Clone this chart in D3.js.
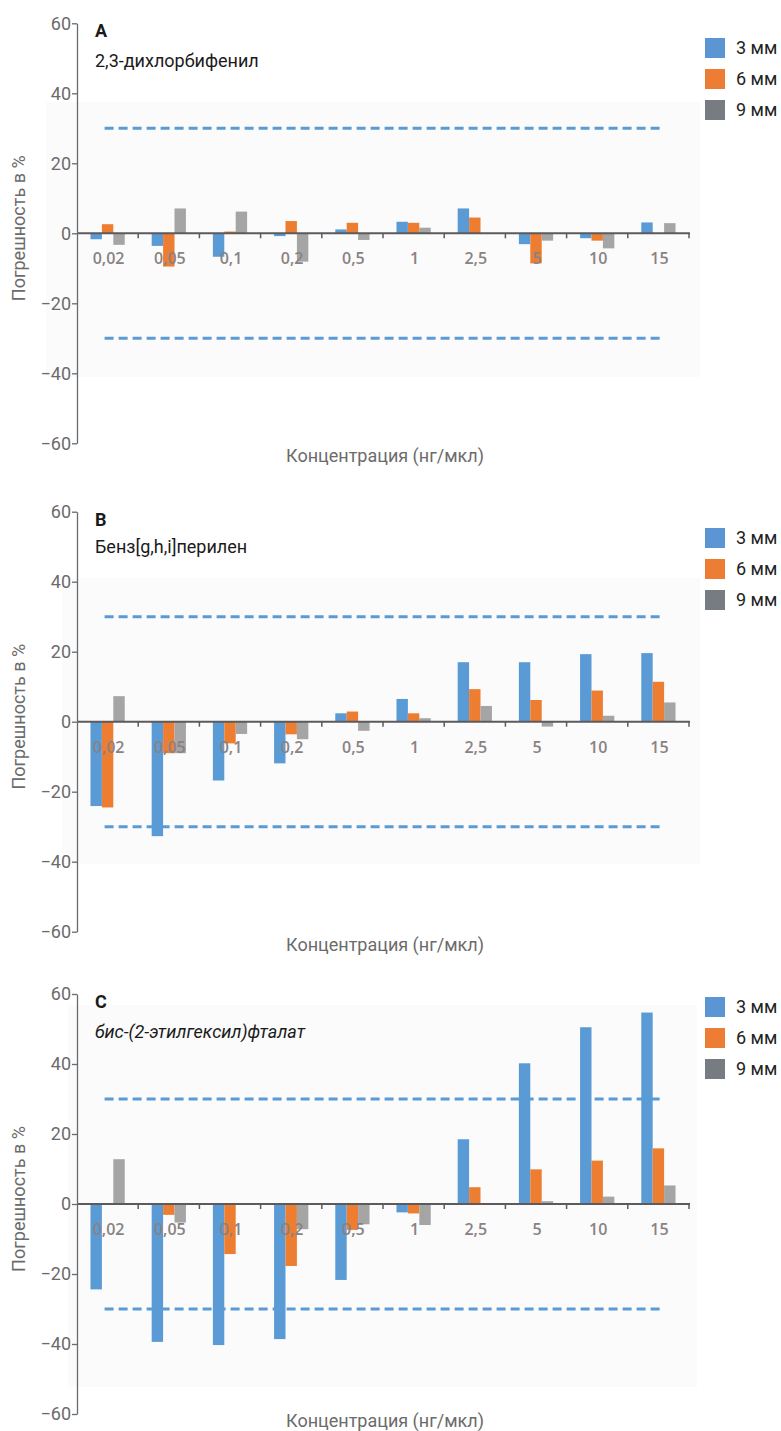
<!DOCTYPE html>
<html><head><meta charset="utf-8">
<script src="https://cdn.jsdelivr.net/npm/d3@7"></script>
<style>body{margin:0;background:#fff;} svg{display:block;}</style>
</head><body>
<script>
const categories = ["0,02","0,05","0,1","0,2","0,5","1","2,5","5","10","15"];
const seriesNames = ["3 мм","6 мм","9 мм"];
const yTicks = [-60,-40,-20,0,20,40,60];
const limitValues = [30,-30];
const panelLetters = ["A","B","C"];
const panelCompounds = ["2,3-дихлорбифенил","Бенз[g,h,i]перилен","бис-(2-этилгексил)фталат"];
const yTitle = "Погрешность в %";
const xTitle = "Концентрация (нг/мкл)";

// Panel A values (%), per series
const a3mm = [-1.7,-3.6,-6.7,-0.8,1.1,3.3,7.1,-3.1,-1.4,3.1];
const a6mm = [2.6,-9.5,0.5,3.5,3.0,3.0,4.5,-8.6,-2.1,0];
const a9mm = [-3.3,7.1,6.2,-8.1,-1.9,1.6,0,-2.1,-4.3,2.9];
// Panel B
const b3mm = [-24.1,-32.7,-16.8,-11.9,2.4,6.5,17.0,17.0,19.3,19.6];
const b6mm = [-24.5,-9.0,-6.2,-3.6,2.9,2.4,9.3,6.2,8.9,11.4];
const b9mm = [7.3,-9.0,-3.5,-5.0,-2.6,1.0,4.5,-1.4,1.7,5.5];
// Panel C
const c3mm = [-24.4,-39.4,-40.3,-38.6,-21.7,-2.4,18.5,40.2,50.5,54.7];
const c6mm = [0,-3.1,-14.3,-17.7,-7.4,-2.7,4.8,9.9,12.4,15.9];
const c9mm = [12.8,-5.3,0,-7.2,-5.8,-6.0,0.2,0.8,2.1,5.3];

const panelValues = [[a3mm,a6mm,a9mm],[b3mm,b6mm,b9mm],[c3mm,c6mm,c9mm]];

// layout
const W = 781, H = 1431;
const barColors = ["#5b9bd5","#ed7d31","#a5a5a5"];
const legendColors = ["#5b95d4","#ed7d35","#777b82"];
const zeroYs = [233.3, 721.7, 1204];
const bgRects = [[46,102,700,377],[62,578,700,864],[68,1005,697,1387]];
const legendTops = [38,528,997];
const axisX = 77, plotRight = 689;

const svg = d3.select("body").append("svg").attr("width",W).attr("height",H);

const x0 = d3.scaleBand().domain(categories).range([axisX, plotRight]).paddingInner(0).paddingOuter(0);
const x1 = d3.scaleBand().domain(seriesNames).range([0, x0.bandwidth()]).paddingInner(0).paddingOuter(1.18);

panelValues.forEach((vals, p) => {
  const z = zeroYs[p];
  const y = d3.scaleLinear().domain([-60,60]).range([z+210, z-210]);
  const g = svg.append("g");
  const bg = bgRects[p];
  g.append("rect").attr("x",bg[0]).attr("y",bg[1]).attr("width",bg[2]-bg[0]).attr("height",bg[3]-bg[1]).attr("fill","#fbfbfb");

  // limit lines
  g.selectAll(".lim").data(limitValues).enter().append("line")
    .attr("x1", x0(categories[0]) + x0.bandwidth()/2 - 3)
    .attr("x2", x0(categories[categories.length-1]) + x0.bandwidth()/2 + 2)
    .attr("y1", d=>y(d)).attr("y2", d=>y(d))
    .attr("stroke","#5b9bd5").attr("stroke-width",3).attr("stroke-dasharray","9,5");

  // bars
  const rows = categories.map((c,i)=>({c, v: seriesNames.map((s,k)=>({s,k,val:vals[k][i]}))}));
  const grp = g.selectAll(".grp").data(rows).enter().append("g").attr("transform",d=>`translate(${x0(d.c)},0)`);
  grp.selectAll("rect").data(d=>d.v).enter().append("rect")
    .attr("x", d=>x1(d.s)).attr("width", x1.bandwidth())
    .attr("y", d=>Math.min(y(d.val), y(0))).attr("height", d=>Math.abs(y(d.val)-y(0)))
    .attr("fill", d=>barColors[d.k]);

  // zero line with category ticks
  g.append("line").attr("x1",axisX+1).attr("x2",plotRight+1).attr("y1",y(0)).attr("y2",y(0))
    .attr("stroke","#5c5a5c").attr("stroke-width",2);
  g.selectAll(".ct").data(categories).enter().append("line")
    .attr("x1",d=>x0(d)+x0.bandwidth()).attr("x2",d=>x0(d)+x0.bandwidth())
    .attr("y1",y(0)).attr("y2",y(0)+5).attr("stroke","#5c5a5c").attr("stroke-width",1.5);

  // category labels
  g.selectAll(".cl").data(categories).enter().append("text")
    .attr("x",d=>x0(d)+x0.bandwidth()/2+1).attr("y",y(0)+31)
    .attr("text-anchor","middle").attr("font-family","'Open Sans'").attr("font-weight",600)
    .attr("font-size",16).attr("fill","#8a8282").text(d=>d);

  // y axis
  const ax = g.append("g").attr("transform",`translate(${axisX},0)`)
    .call(d3.axisLeft(y).tickValues(yTicks).tickSize(5).tickSizeOuter(0).tickPadding(1));
  ax.select(".domain").attr("stroke","#6a6a6a").attr("stroke-width",1.3);
  ax.selectAll(".tick line").attr("stroke","#6a6a6a").attr("stroke-width",1.3);
  ax.selectAll(".tick text").attr("font-family","Roboto").attr("font-size",18).attr("fill","#6b6b6b");

  // titles
  g.append("text").attr("x",95).attr("y",z-196).attr("font-family","Roboto").attr("font-weight",700)
    .attr("font-size",18).attr("fill","#1a1a1a").text(panelLetters[p]);
  g.append("text").attr("x",95).attr("y", p===1 ? z-169 : z-166).attr("font-family","Roboto")
    .attr("font-size",18).attr("fill","#1a1a1a").attr("font-style", p===2 ? "italic":"normal")
    .text(panelCompounds[p]);

  // axis titles
  g.append("text").attr("transform",`translate(25,${z-5}) rotate(-90)`).attr("text-anchor","middle")
    .attr("font-family","Roboto").attr("font-size",18).attr("fill","#6b6b6b").text(yTitle);
  g.append("text").attr("x",385).attr("y",Math.min(z+229, H-4)).attr("text-anchor","middle")
    .attr("font-family","Roboto").attr("font-size",18).attr("fill","#6b6b6b").text(xTitle);

  // legend
  const lg = g.selectAll(".lg").data(seriesNames).enter().append("g")
    .attr("transform",(d,i)=>`translate(705,${legendTops[p]+i*31})`);
  lg.append("rect").attr("width",20).attr("height",20).attr("fill",(d,i)=>legendColors[i]);
  lg.append("text").attr("x",31).attr("y",16).attr("font-family","Roboto").attr("font-size",18)
    .attr("fill","#222").text(d=>d);
});
</script>
</body></html>
